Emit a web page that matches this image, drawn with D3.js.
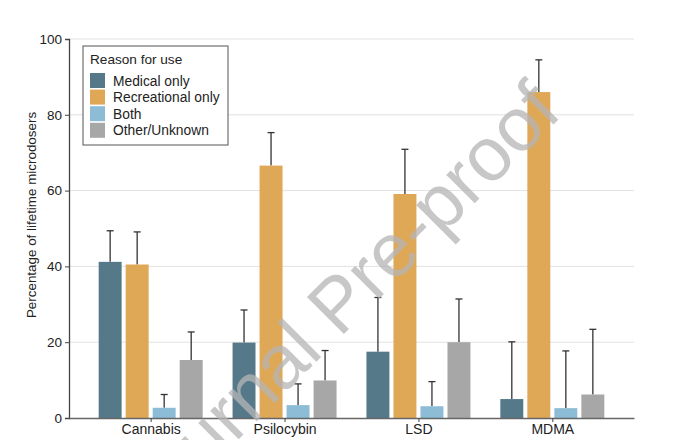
<!DOCTYPE html>
<html>
<head>
<meta charset="utf-8">
<script src="https://cdn.jsdelivr.net/npm/d3@7"></script>
<style>
  body { margin: 0; background: #fff; }
  text { font-family: "Liberation Sans", Arial, sans-serif; }
</style>
</head>
<body>
<div class="chart"></div>
<script>
const drugs = ["Cannabis", "Psilocybin", "LSD", "MDMA"];
const reasons = ["Medical only", "Recreational only", "Both", "Other/Unknown"];
const colors = ["#56798a", "#dfa856", "#8dbdd6", "#a7a7a7"];

// percentage per drug, one array per reason
const medical = [41.2, 19.9, 17.5, 5.0];
const recreational = [40.5, 66.6, 59.1, 86.0];
const both = [2.7, 3.4, 3.1, 2.6];
const other = [15.3, 9.9, 20.0, 6.2];

// upper end of the error bar
const medicalHi = [49.4, 28.5, 31.8, 20.1];
const recreationalHi = [49.1, 75.3, 70.9, 94.5];
const bothHi = [6.2, 9.0, 9.6, 17.7];
const otherHi = [22.7, 17.8, 31.4, 23.4];

const yTicks = [0, 20, 40, 60, 80, 100];

const values = [medical, recreational, both, other];
const highs = [medicalHi, recreationalHi, bothHi, otherHi];

const width = 680, height = 440;
const plotL = 69, plotR = 634, plotT = 39, plotB = 418;

const svg = d3.select(".chart").append("svg")
  .attr("width", width)
  .attr("height", height);

const y = d3.scaleLinear().domain([0, 100]).range([plotB, plotT]);
const x = d3.scalePoint().domain(drugs).range([plotL, plotR]).padding(0.61);
const xSub = d3.scaleBand().domain(reasons).range([-52, 52]).paddingInner(0.15);

// grid
svg.append("g")
  .selectAll("line")
  .data(yTicks.filter(d => d > 0))
  .join("line")
  .attr("x1", plotL)
  .attr("x2", plotR)
  .attr("y1", d => y(d))
  .attr("y2", d => y(d))
  .attr("stroke", "#e2e2e2")
  .attr("stroke-width", 1);

// bars + error bars
const rows = [];
reasons.forEach((r, i) => {
  drugs.forEach((dr, j) => {
    rows.push({ reason: r, drug: dr, v: values[i][j], hi: highs[i][j], c: colors[i] });
  });
});

const cx = d => x(d.drug) + xSub(d.reason) + xSub.bandwidth() / 2;

const bars = svg.append("g");
bars.selectAll("line.err")
  .data(rows)
  .join("line")
  .attr("class", "err")
  .attr("x1", cx)
  .attr("x2", cx)
  .attr("y1", d => y(d.v))
  .attr("y2", d => y(d.hi))
  .attr("stroke", "#333")
  .attr("stroke-width", 1.3);

bars.selectAll("line.cap")
  .data(rows)
  .join("line")
  .attr("class", "cap")
  .attr("x1", d => cx(d) - 3.5)
  .attr("x2", d => cx(d) + 3.5)
  .attr("y1", d => y(d.hi))
  .attr("y2", d => y(d.hi))
  .attr("stroke", "#333")
  .attr("stroke-width", 1.3);

bars.selectAll("rect")
  .data(rows)
  .join("rect")
  .attr("x", d => x(d.drug) + xSub(d.reason))
  .attr("width", xSub.bandwidth())
  .attr("y", d => y(d.v))
  .attr("height", d => y(0) - y(d.v))
  .attr("fill", d => d.c);

// axes
const yAxis = svg.append("g")
  .attr("transform", `translate(${plotL},0)`)
  .call(d3.axisLeft(y).tickValues(yTicks).tickSize(4).tickPadding(3));
yAxis.select(".domain").attr("stroke", "#444").attr("stroke-width", 1.3);
yAxis.selectAll(".tick line").attr("stroke", "#444");
yAxis.selectAll(".tick text").attr("font-size", 13.5).attr("fill", "#222")
  .style("font-family", "Liberation Sans, Arial, sans-serif");

const xAxis = svg.append("g")
  .attr("transform", `translate(0,${plotB})`)
  .call(d3.axisBottom(x).tickSize(4).tickPadding(2).tickSizeOuter(0));
xAxis.select(".domain").attr("stroke", "#666").attr("stroke-width", 1.3);
xAxis.selectAll(".tick line").attr("stroke", "#444");
xAxis.selectAll(".tick text").attr("font-size", 14).attr("fill", "#222")
  .style("font-family", "Liberation Sans, Arial, sans-serif");

svg.append("text")
  .attr("transform", "translate(36,215) rotate(-90)")
  .attr("text-anchor", "middle")
  .attr("font-size", 13.4)
  .attr("fill", "#222")
  .text("Percentage of lifetime microdosers");

// legend
const lg = svg.append("g").attr("transform", "translate(83,46)");
lg.append("rect")
  .attr("width", 145)
  .attr("height", 99)
  .attr("fill", "#fff")
  .attr("stroke", "#555")
  .attr("stroke-width", 1);
lg.append("text")
  .attr("x", 7)
  .attr("y", 18)
  .attr("font-size", 13.6)
  .attr("fill", "#222")
  .text("Reason for use");
const items = lg.selectAll("g.item")
  .data(reasons)
  .join("g")
  .attr("class", "item")
  .attr("transform", (d, i) => `translate(7,${27 + i * 16.6})`);
items.append("rect")
  .attr("width", 15)
  .attr("height", 15)
  .attr("fill", (d, i) => colors[i]);
items.append("text")
  .attr("x", 23)
  .attr("y", 12.5)
  .attr("font-size", 13.8)
  .attr("fill", "#222")
  .text(d => d);

// watermark (runs off the bottom edge, as in the source)
svg.append("text")
  .attr("transform", "translate(356,322) rotate(-45)")
  .attr("text-anchor", "middle")
  .attr("font-size", 76)
  .attr("fill", "#b5b5b5")
  .attr("opacity", 0.75)
  .text("Journal Pre-proof");
</script>
</body>
</html>
